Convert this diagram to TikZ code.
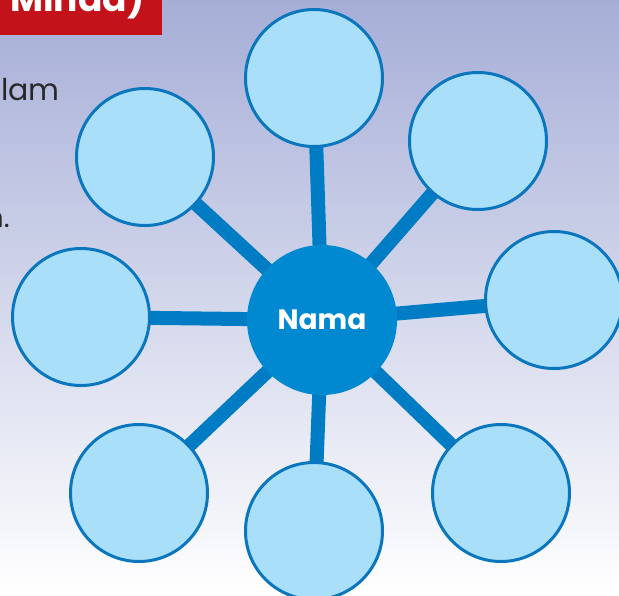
\documentclass[tikz,border=0pt]{standalone}
\usepackage{fontspec}
\setmainfont{Poppins}
\usetikzlibrary{backgrounds}
\definecolor{bgtop}{RGB}{166,174,215}
\definecolor{ringblue}{RGB}{10,118,190}
\definecolor{spokeblue}{RGB}{0,124,196}
\definecolor{bubblefill}{RGB}{170,223,249}
\definecolor{hubblue}{RGB}{0,137,208}
\definecolor{titlered}{RGB}{196,18,26}
\definecolor{bodygray}{RGB}{40,40,40}
\tikzset{
  bubble/.style={circle, draw=ringblue, line width=3pt, fill=bubblefill, minimum size=137pt, inner sep=0pt},
  spoke/.style={draw=spokeblue, line width=14pt},
}
\begin{document}
\begin{tikzpicture}[x=1pt, y=-1pt]
  \useasboundingbox (0,0) rectangle (619,595);
  \clip (0,0) rectangle (619,595);
  \node[bubble] (top) at (314,78) {};
  \node[bubble] (topright) at (478,141) {};
  \node[bubble] (right) at (554,300) {};
  \node[bubble] (bottomright) at (501,493) {};
  \node[bubble] (bottom) at (314,531) {};
  \node[bubble] (bottomleft) at (139,493) {};
  \node[bubble] (left) at (81,317) {};
  \node[bubble] (topleft) at (145,157) {};
  \node[circle, fill=hubblue, minimum size=150pt, inner sep=0pt, text=white, font=\bfseries\fontsize{28}{28}\selectfont] (hub) at (322,320) {Nama};
  \node[rectangle, fill=titlered, minimum width=162pt, minimum height=35pt, inner sep=0pt, anchor=north west] (title) at (0,0) {};
  \node[anchor=base west, inner sep=0pt, text=white, font=\bfseries\fontsize{36}{36}\selectfont] (titletext) at (10,11) {Minda)};
  \node[anchor=base west, inner sep=0pt, text=bodygray, font=\fontsize{30}{30}\selectfont] (line1) at (1,100) {lam};
  \node[anchor=base east, inner sep=0pt, text=bodygray, font=\fontsize{28}{28}\selectfont] (line2) at (10,227) {n.};
  \begin{pgfonlayer}{background}
    \shade[top color=bgtop, bottom color=white] (0,0) rectangle (619,595);
    \draw[spoke] (hub.center) -- (top.center);
    \draw[spoke] (hub.center) -- (topright.center);
    \draw[spoke] (hub.center) -- (right.center);
    \draw[spoke] (hub.center) -- (bottomright.center);
    \draw[spoke] (hub.center) -- (bottom.center);
    \draw[spoke] (hub.center) -- (bottomleft.center);
    \draw[spoke] (hub.center) -- (left.center);
    \draw[spoke] (hub.center) -- (topleft.center);
  \end{pgfonlayer}
\end{tikzpicture}
\end{document}
